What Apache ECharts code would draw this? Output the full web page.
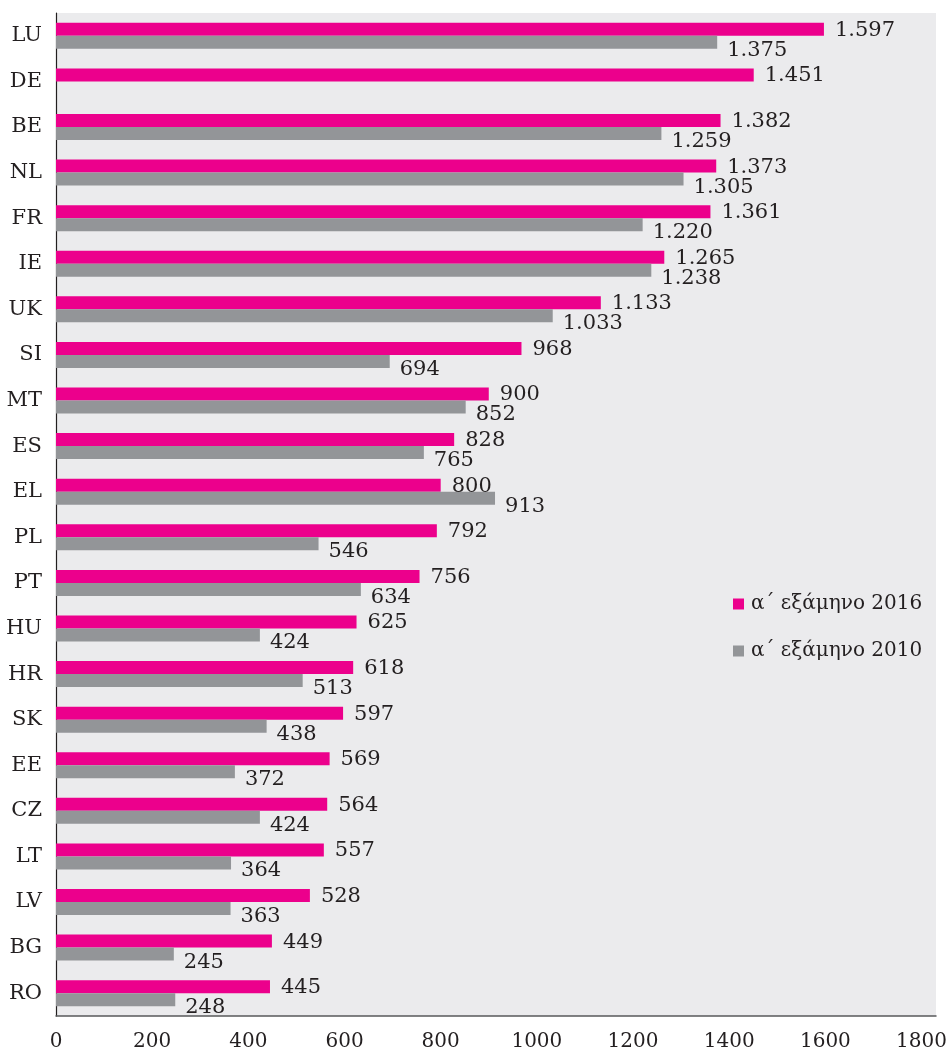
<!DOCTYPE html>
<html>
<head>
<meta charset="utf-8">
<script src="https://cdn.jsdelivr.net/npm/echarts@6/dist/echarts.min.js"></script>
<style>
  html, body { margin: 0; padding: 0; background: #ffffff; }
  #chart { width: 950px; height: 1052px; }
</style>
</head>
<body>
<div id="chart"></div>
<script>
// Country codes, top to bottom
const countries = ['LU', 'DE', 'BE', 'NL', 'FR', 'IE', 'UK', 'SI', 'MT', 'ES', 'EL',
  'PL', 'PT', 'HU', 'HR', 'SK', 'EE', 'CZ', 'LT', 'LV', 'BG', 'RO'];

// First half of 2016
const values2016 = [1597, 1451, 1382, 1373, 1361, 1265, 1133, 968, 900, 828, 800,
  792, 756, 625, 618, 597, 569, 564, 557, 528, 449, 445];

// First half of 2010 (no figure for DE)
const values2010 = [1375, null, 1259, 1305, 1220, 1238, 1033, 694, 852, 765, 913,
  546, 634, 424, 513, 438, 372, 424, 364, 363, 245, 248];

const seriesNames = ['α΄ εξάμηνο 2016', 'α΄ εξάμηνο 2010'];
const xTicks = [0, 200, 400, 600, 800, 1000, 1200, 1400, 1600, 1800];

const FONT = '"DejaVu Serif", "Liberation Serif", serif';
const TEXT = '#231f20';

// Greek-style thousands separator: 1597 -> 1.597
function fmt(v) {
  return String(v).replace(/\B(?=(\d{3})+(?!\d))/g, '.');
}

const chart = echarts.init(document.getElementById('chart'));

chart.setOption({
  animation: false,
  backgroundColor: '#ffffff',
  textStyle: { fontFamily: FONT },
  grid: {
    left: 56, right: 11, top: 13, bottom: 36,
    show: true, backgroundColor: '#ebebed', borderWidth: 0
  },
  legend: {
    orient: 'vertical',
    left: 728, top: 589,
    itemWidth: 11, itemHeight: 11, itemGap: 27,
    icon: 'rect',
    textStyle: { fontFamily: FONT, fontSize: 20, color: TEXT, padding: [0, 0, 0, 2] },
    data: seriesNames
  },
  xAxis: {
    type: 'value',
    min: 0, max: 1830, interval: 200,
    splitLine: { show: false },
    axisTick: { show: false },
    axisLine: { show: true, lineStyle: { color: '#58595b', width: 1.5 } },
    axisLabel: {
      showMaxLabel: false,
      fontFamily: FONT, fontSize: 20, color: TEXT, margin: 16,
      formatter: function (v) { return xTicks.indexOf(v) >= 0 ? String(v) : ''; }
    }
  },
  yAxis: {
    type: 'category',
    data: countries,
    inverse: true,
    axisTick: { show: false },
    axisLine: { show: true, lineStyle: { color: '#231f20', width: 1.2 } },
    axisLabel: { fontFamily: FONT, fontSize: 21, color: TEXT, margin: 14 }
  },
  series: [
    {
      name: seriesNames[0],
      type: 'bar',
      data: values2016,
      barWidth: 13,
      barGap: '0%',
      itemStyle: { color: '#ec008c' },
      label: {
        show: true, position: 'right', distance: 11, offset: [0, 1],
        fontFamily: FONT, fontSize: 21, color: TEXT,
        formatter: function (p) { return fmt(p.value); }
      }
    },
    {
      name: seriesNames[1],
      type: 'bar',
      data: values2010,
      barWidth: 13,
      barGap: '0%',
      itemStyle: { color: '#939598' },
      label: {
        show: true, position: 'right', distance: 10, offset: [0, 8],
        fontFamily: FONT, fontSize: 21, color: TEXT,
        formatter: function (p) { return p.value == null ? '' : fmt(p.value); }
      }
    }
  ]
});
</script>
</body>
</html>
